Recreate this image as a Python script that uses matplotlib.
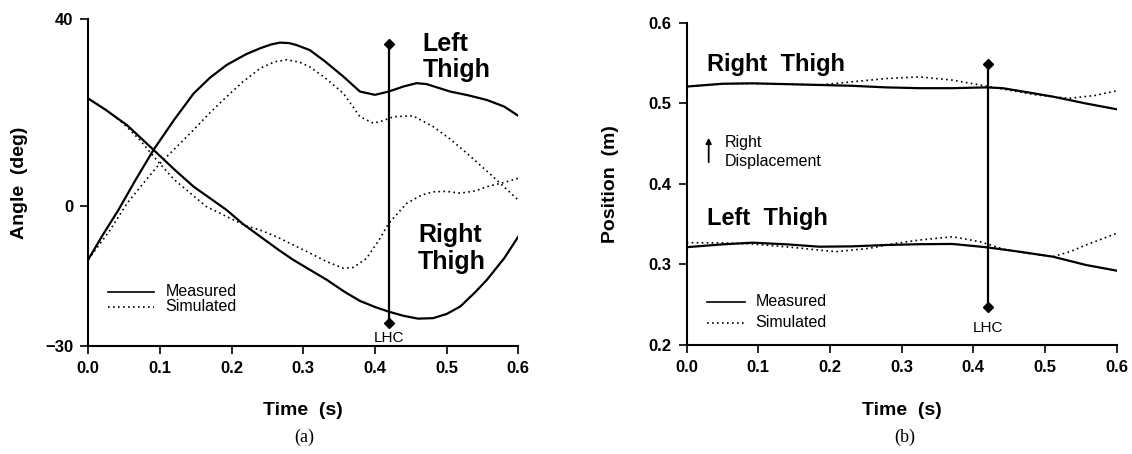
import numpy as np
import matplotlib
matplotlib.use("Agg")
import matplotlib.pyplot as plt

plt.rcParams['font.family'] = ['Liberation Sans', 'DejaVu Sans']

# (a) ângulo das coxas (graus)
t_esq_med = [0, 0.02, 0.042, 0.065, 0.091, 0.12, 0.147, 0.17, 0.193, 0.22, 0.24, 0.255, 0.267, 0.28,
             0.29, 0.309, 0.33, 0.356, 0.379, 0.4, 0.419, 0.44, 0.458, 0.472, 0.505, 0.53, 0.556,
             0.58, 0.6]
ang_esq_med = [-11.5, -6.3, -0.9, 5.3, 12.0, 18.5, 24.1, 27.5, 30.2, 32.5, 33.8, 34.6, 35.0, 34.9,
               34.5, 33.4, 31.0, 27.7, 24.5, 23.8, 24.5, 25.6, 26.3, 26.1, 24.5, 23.7, 22.7,
               21.3, 19.3]
t_esq_sim = [0, 0.03, 0.054, 0.075, 0.1, 0.125, 0.147, 0.17, 0.193, 0.215, 0.24, 0.26, 0.277, 0.295,
             0.309, 0.33, 0.356, 0.379, 0.398, 0.41, 0.426, 0.453, 0.481, 0.505, 0.528, 0.565, 0.6]
ang_esq_sim = [-11.5, -5.3, 0.5, 4.5, 9.1, 12.9, 16.3, 20.0, 23.4, 26.5, 29.5, 30.9, 31.3, 30.8,
               29.8, 27.5, 24.1, 19.1, 17.7, 18.2, 19.1, 19.3, 17.0, 14.3, 11.3, 6.2, 1.2]
t_dir_med = [0, 0.025, 0.054, 0.091, 0.12, 0.147, 0.17, 0.193, 0.215, 0.24, 0.265, 0.286, 0.31, 0.333,
             0.357, 0.379, 0.4, 0.419, 0.44, 0.46, 0.481, 0.5, 0.519, 0.54, 0.556, 0.58, 0.6]
ang_dir_med = [23.0, 20.5, 17.3, 12.0, 7.8, 4.1, 1.6, -0.9, -3.8, -6.6, -9.4, -11.6, -13.8, -15.9,
               -18.4, -20.4, -21.7, -22.7, -23.6, -24.2, -24.1, -23.2, -21.6, -18.5, -15.9, -11.3, -6.6]
t_dir_sim = [0, 0.025, 0.05, 0.072, 0.1, 0.12, 0.137, 0.165, 0.193, 0.22, 0.24, 0.265, 0.286, 0.31,
             0.333, 0.356, 0.37, 0.388, 0.405, 0.419, 0.444, 0.465, 0.481, 0.5, 0.519, 0.54, 0.556,
             0.58, 0.6]
ang_dir_sim = [23.0, 20.6, 17.5, 14.1, 9.0, 5.6, 3.4, -0.2, -2.3, -4.3, -5.2, -6.8, -8.4, -10.2,
               -12.0, -13.4, -13.2, -11.3, -7.5, -3.8, 0.5, 2.3, 3.0, 3.1, 2.7, 3.2, 4.1, 5.0, 5.9]

# (b) posição lateral das coxas (m)
t_pos_dir_med = [0, 0.05, 0.092, 0.14, 0.185, 0.23, 0.278, 0.325, 0.37, 0.418, 0.441, 0.475, 0.511,
                 0.557, 0.6]
pos_dir_med = [0.521, 0.5245, 0.525, 0.524, 0.523, 0.522, 0.520, 0.519, 0.519, 0.520, 0.519, 0.514,
               0.5085, 0.500, 0.4928]
t_pos_dir_sim = [0, 0.05, 0.092, 0.14, 0.185, 0.232, 0.278, 0.325, 0.371, 0.409, 0.441, 0.488, 0.534,
                 0.57, 0.6]
pos_dir_sim = [0.521, 0.5245, 0.525, 0.524, 0.523, 0.527, 0.531, 0.533, 0.529, 0.523, 0.518, 0.5106,
               0.5064, 0.510, 0.5158]
t_pos_esq_med = [0, 0.05, 0.092, 0.14, 0.185, 0.23, 0.278, 0.325, 0.371, 0.418, 0.464, 0.511, 0.557,
                 0.6]
pos_esq_med = [0.3215, 0.325, 0.3271, 0.325, 0.3221, 0.3225, 0.3242, 0.3252, 0.3255, 0.3214, 0.3159,
               0.3097, 0.2994, 0.2923]
t_pos_esq_sim = [0, 0.05, 0.092, 0.15, 0.208, 0.255, 0.29, 0.325, 0.371, 0.409, 0.441, 0.475, 0.511,
                 0.535, 0.557, 0.6]
pos_esq_sim = [0.3271, 0.3268, 0.3255, 0.321, 0.3159, 0.3201, 0.326, 0.3304, 0.3345, 0.3283, 0.3193,
               0.314, 0.3097, 0.316, 0.3242, 0.3387]

t_lhc = 0.42
lhc_a = [-25.2, 34.8]
lhc_b = [0.2476, 0.549]

fig = plt.figure(figsize=(11.32, 4.54), dpi=100)
ax1 = fig.add_axes([0.0780, 0.2386, 0.3799, 0.7189])
ax2 = fig.add_axes([0.6066, 0.2401, 0.3799, 0.7093])

for ax in (ax1, ax2):
    for s in ('top', 'right'):
        ax.spines[s].set_visible(False)
    for s in ('left', 'bottom'):
        ax.spines[s].set_linewidth(1.5)
    ax.tick_params(direction='out', length=6, width=1.2, labelsize=12, pad=5)
    ax.set_xlim(0, 0.6)
    ax.set_xticks(np.arange(0, 0.61, 0.1))
    ax.set_xticklabels([f'{v:.1f}' for v in np.arange(0, 0.61, 0.1)], fontweight='bold')
    ax.set_xlabel('Time  (s)', fontsize=14, fontweight='bold')

# --- (a) ---
ax1.plot(t_esq_med, ang_esq_med, color='black', lw=1.6)
ax1.plot(t_esq_sim, ang_esq_sim, color='black', lw=1.2, ls=(0, (1, 2)))
ax1.plot(t_dir_med, ang_dir_med, color='black', lw=1.6)
ax1.plot(t_dir_sim, ang_dir_sim, color='black', lw=1.2, ls=(0, (1, 2)))
ax1.plot([t_lhc, t_lhc], lhc_a, color='black', lw=1.6, marker='D', markersize=5.5)
ax1.text(t_lhc, -28.4, 'LHC', ha='center', va='center', fontsize=11)
ax1.text(0.466, 31.9, 'Left\nThigh', ha='left', va='center', fontsize=18, fontweight='bold',
         linespacing=1.15)
ax1.text(0.46, -9.2, 'Right\nThigh', ha='left', va='center', fontsize=18, fontweight='bold',
         linespacing=1.15)
ax1.plot([0.028, 0.091], [-18.4, -18.4], color='black', lw=1.2)
ax1.plot([0.028, 0.091], [-21.6, -21.6], color='black', lw=1.2, ls=(0, (1, 2)))
ax1.text(0.108, -18.4, 'Measured', va='center', fontsize=11.5)
ax1.text(0.108, -21.6, 'Simulated', va='center', fontsize=11.5)
ax1.set_ylim(-30, 40)
ax1.set_yticks([-30, 0, 40])
ax1.set_yticklabels(['\u221230', '0', '40'], fontweight='bold')
ax1.set_ylabel('Angle  (deg)', fontsize=14, fontweight='bold')
ax1.yaxis.set_label_coords(-0.14, 0.5)
ax1.xaxis.set_label_coords(0.5, -0.172)

# --- (b) ---
ax2.plot(t_pos_dir_med, pos_dir_med, color='black', lw=1.6)
ax2.plot(t_pos_dir_sim, pos_dir_sim, color='black', lw=1.2, ls=(0, (1, 2)))
ax2.plot(t_pos_esq_med, pos_esq_med, color='black', lw=1.6)
ax2.plot(t_pos_esq_sim, pos_esq_sim, color='black', lw=1.2, ls=(0, (1, 2)))
ax2.plot([t_lhc, t_lhc], lhc_b, color='black', lw=1.6, marker='D', markersize=5.5)
ax2.text(t_lhc, 0.2207, 'LHC', ha='center', va='center', fontsize=11)
ax2.text(0.029, 0.5478, 'Right  Thigh', ha='left', va='center', fontsize=17, fontweight='bold')
ax2.text(0.029, 0.3574, 'Left  Thigh', ha='left', va='center', fontsize=17, fontweight='bold')
ax2.annotate('', xy=(0.0307, 0.4609), xytext=(0.0307, 0.4236),
             arrowprops=dict(arrowstyle='-|>', color='black', lw=1.3, mutation_scale=8))
ax2.text(0.0525, 0.4513, 'Right', va='center', fontsize=11.5)
ax2.text(0.0525, 0.4277, 'Displacement', va='center', fontsize=11.5)
ax2.plot([0.028, 0.081], [0.2538, 0.2538], color='black', lw=1.2)
ax2.plot([0.028, 0.081], [0.2277, 0.2277], color='black', lw=1.2, ls=(0, (1, 2)))
ax2.text(0.096, 0.2538, 'Measured', va='center', fontsize=11.5)
ax2.text(0.096, 0.2277, 'Simulated', va='center', fontsize=11.5)
ax2.set_ylim(0.2, 0.6)
ax2.set_yticks([0.2, 0.3, 0.4, 0.5, 0.6])
ax2.set_yticklabels(['0.2', '0.3', '0.4', '0.5', '0.6'], fontweight='bold')
ax2.set_ylabel('Position  (m)', fontsize=14, fontweight='bold')
ax2.yaxis.set_label_coords(-0.158, 0.5)
ax2.xaxis.set_label_coords(0.5, -0.178)

fig.text(0.2686, 0.0374, '(a)', ha='center', va='center', fontsize=13, family='Liberation Serif')
fig.text(0.7995, 0.0374, '(b)', ha='center', va='center', fontsize=13, family='Liberation Serif')

fig.savefig('out.png', dpi=100)
